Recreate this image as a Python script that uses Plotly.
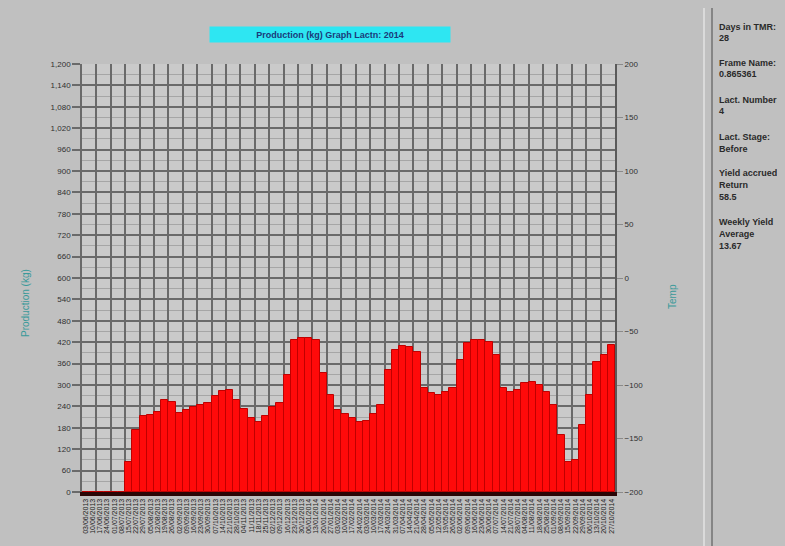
import plotly.graph_objects as go
import pandas as pd

# ---- data ----
period_labels = [d.strftime("%d/%m/%Y") for d in pd.date_range("2013-06-03", periods=74, freq="7D")]
production = [0, 0, 0, 0, 0, 0, 84, 174, 213, 216,
              224, 258, 252, 221, 230, 238, 244, 250, 269, 283,
              286, 258, 233, 207, 196, 213, 238, 250, 328, 426,
              432, 432, 426, 334, 272, 230, 219, 207, 196, 199,
              219, 244, 342, 398, 409, 407, 393, 292, 278, 272,
              280, 292, 370, 418, 426, 426, 421, 384, 292, 280,
              286, 306, 308, 300, 280, 244, 160, 84, 90, 188,
              272, 365, 384, 412]
left_ticks = list(range(0, 1201, 60))
right_ticks = list(range(-200, 201, 50))
title_text = "Production (kg) Graph Lactn: 2014"
left_title = "Production (kg)"
right_title = "Temp"
panel_lines = [
    ("Days in TMR:", 27), ("28", 38),
    ("Frame Name:", 63), ("0.865361", 74),
    ("Lact. Number:", 100), ("4", 111),
    ("Lact. Stage:", 137), ("Before", 149),
    ("Yield accrued", 173), ("Return", 185), ("58.5", 197),
    ("Weekly Yield", 222), ("Average", 234), ("13.67", 246),
]

N = len(production)
xs = list(range(N))

# ---- geometry (page pixels; the page body adds an 8px offset) ----
OFF = 8
W, H = 785 - OFF, 546 - OFF
L, R, T, B = 82 - OFF, 615 - OFF, 64 - OFF, 492 - OFF
def px(x):
    return (x - OFF - L) / (R - L)
def py(y):
    return (B - (y - OFF)) / (B - T)

fig = go.Figure()
fig.add_trace(go.Bar(
    x=xs, y=production,
    marker=dict(color="#ff0a0a", line=dict(color="#c00000", width=1)),
    width=1.0,
    showlegend=False,
    hoverinfo="y",
))
# invisible trace bound to secondary axes (grid + right scale)
fig.add_trace(go.Scatter(x=[None], y=[None], xaxis="x2", yaxis="y2",
                         mode="markers", showlegend=False, hoverinfo="skip"))

grid_dark = "#6a6a6a"
fig.update_layout(
    width=W, height=H,
    margin=dict(l=L, r=W - R, t=T, b=H - B, autoexpand=False),
    paper_bgcolor="#c0c0c0",
    plot_bgcolor="#cacaca",
    bargap=0,
    font=dict(family="Liberation Sans, Arial, sans-serif", size=8, color="#303030"),
    xaxis=dict(
        range=[-0.5, N - 0.5],
        tickmode="array", tickvals=xs, ticktext=period_labels,
        tickangle=-90, tickfont=dict(size=7, color="#202020"),
        showgrid=False, zeroline=False,
        showline=True, linecolor="#2a0606", linewidth=4,
        ticks="", automargin=False,
    ),
    xaxis2=dict(
        overlaying="x", range=[-0.5, N - 0.5],
        tickmode="linear", tick0=-0.5, dtick=2,
        showticklabels=False, showgrid=True, gridcolor=grid_dark, gridwidth=1.5,
        zeroline=False, showline=False, ticks="",
    ),
    yaxis=dict(
        range=[0, 1200], tickmode="array", tickvals=left_ticks, tickformat=",d",
        showgrid=True, gridcolor=grid_dark, gridwidth=1.5,
        minor=dict(dtick=30, showgrid=True, gridcolor="#a6a6a6", gridwidth=1),
        zeroline=False, showline=True, linecolor=grid_dark, linewidth=1.5, mirror=False,
        ticks="outside", ticklen=8, tickcolor=grid_dark, tickwidth=1.5,
        tickfont=dict(size=8, color="#303030"), automargin=False,
    ),
    yaxis2=dict(
        overlaying="y", side="right", anchor="x2",
        range=[-200, 200], tickmode="array", tickvals=right_ticks,
        showgrid=False, zeroline=False,
        showline=True, linecolor="#5a5a5a", linewidth=2,
        ticks="outside", ticklen=6, tickcolor="#8a8a8a",
        tickfont=dict(size=8, color="#303030"), automargin=False,
    ),
)

annotations = [
    dict(text="<b>" + title_text + "</b>", x=px(330), y=py(34), xref="paper", yref="paper",
         showarrow=False, xanchor="center", yanchor="middle",
         font=dict(size=9, color="#1a3a7a"), bgcolor="#2ee6f2",
         width=238, height=13, borderpad=1),
    dict(text=left_title, x=px(25), y=py(303), xref="paper", yref="paper",
         showarrow=False, textangle=-90, xanchor="center", yanchor="middle",
         font=dict(size=10, color="#3a9a9a")),
    dict(text=right_title, x=px(672), y=py(297), xref="paper", yref="paper",
         showarrow=False, textangle=-90, xanchor="center", yanchor="middle",
         font=dict(size=10, color="#3a9a9a")),
]
for txt, yy in panel_lines:
    annotations.append(dict(text="<b>" + txt + "</b>", x=px(717), y=py(yy),
                            xref="paper", yref="paper", showarrow=False,
                            xanchor="left", yanchor="middle",
                            font=dict(size=9, color="#2a2a2a")))
fig.update_layout(annotations=annotations)

fig.update_layout(shapes=[
    dict(type="line", xref="paper", yref="paper", x0=px(704), x1=px(704),
         y0=py(0), y1=py(546), line=dict(color="#dadada", width=2)),
    dict(type="line", xref="paper", yref="paper", x0=px(712), x1=px(712),
         y0=py(0), y1=py(546), line=dict(color="#858585", width=2)),
])

fig.write_html("out.html",
               post_script="document.body.style.background='#c0c0c0';"
                           "document.documentElement.style.background='#c0c0c0';")
